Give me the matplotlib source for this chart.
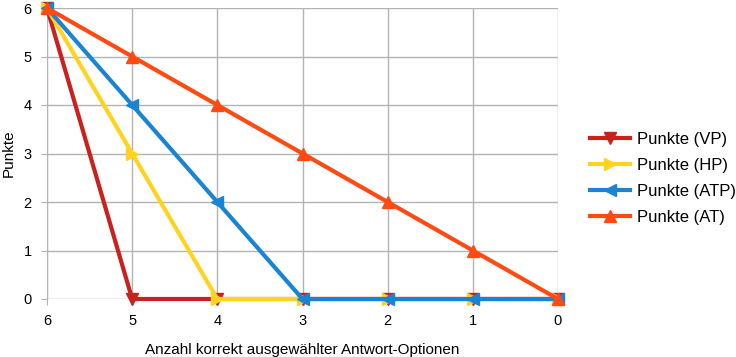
import matplotlib.pyplot as plt

plt.rcParams['font.family'] = ['Liberation Sans', 'DejaVu Sans']

# x: Anzahl korrekt ausgewählter Antwort-Optionen
x = [6, 5, 4, 3, 2, 1, 0]
vp = [6, 0, 0, 0, 0, 0, 0]
hp = [6, 3, 0, 0, 0, 0, 0]
atp = [6, 4, 2, 0, 0, 0, 0]
at = [6, 5, 4, 3, 2, 1, 0]

serien = [
    ('Punkte (VP)', vp, '#c9211e', 'v'),
    ('Punkte (HP)', hp, '#ffd320', '>'),
    ('Punkte (ATP)', atp, '#1a84d4', '<'),
    ('Punkte (AT)', at, '#ff4a12', '^'),
]

fig = plt.figure(figsize=(7.36, 3.57), dpi=100)
ax = fig.add_axes([47 / 736, 1 - 299 / 357, 511 / 736, 291 / 357])

for name, werte, farbe, marker in serien:
    ax.plot(x, werte, color=farbe, marker=marker, markersize=9, linewidth=3,
            label=name, clip_on=False, zorder=3)

ax.set_xlim(6, 0)
ax.set_ylim(0, 6)
ax.set_xticks(x)
ax.set_yticks(range(7))
ax.grid(True, color='#b3b3b3', linewidth=1)
for s in ['top', 'right', 'bottom']:
    ax.spines[s].set_visible(False)
ax.spines['left'].set_color('#b3b3b3')
ax.tick_params(color='#b3b3b3', length=4, labelsize=10.5, pad=7)

ax.set_xlabel('Anzahl korrekt ausgewählter Antwort-Optionen', fontsize=11)
ax.set_ylabel('Punkte', fontsize=11)
ax.xaxis.set_label_coords(0.5, -0.151)
ax.yaxis.set_label_coords(-0.062, 0.5)

ax.legend(loc='center left', bbox_to_anchor=(1.0626, 0.415), frameon=False,
          fontsize=12, handlelength=2.4, labelspacing=0.66, handletextpad=0.4,
          borderpad=0, borderaxespad=0)

fig.savefig('out.png', dpi=100)
